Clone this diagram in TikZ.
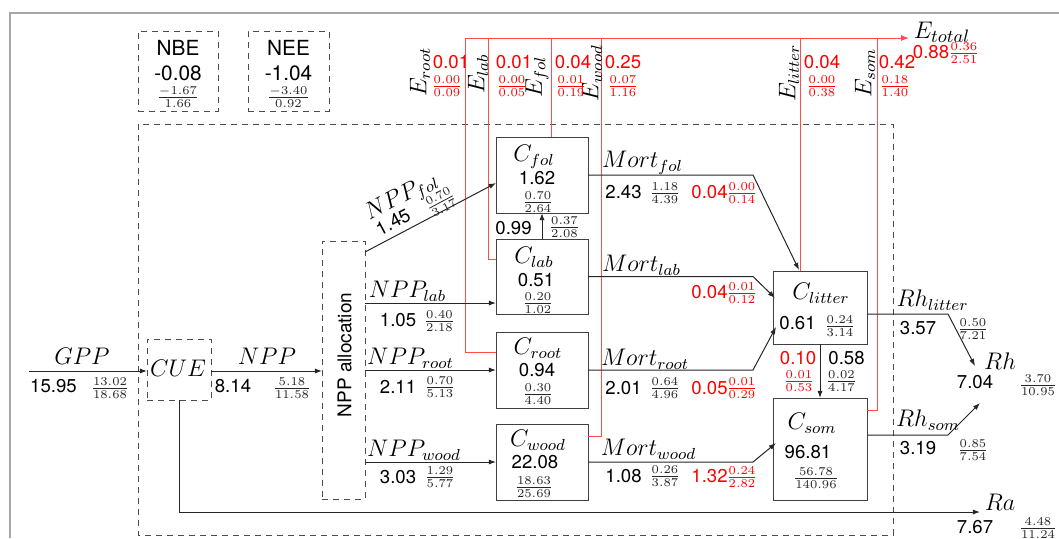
\documentclass[tikz,border=0pt]{standalone}
\usepackage{fontspec}
\setsansfont{TeX Gyre Heros}
\usetikzlibrary{arrows.meta}
\newcommand{\fr}[2]{$\frac{#1}{#2}$}
\begin{document}
\begin{tikzpicture}[x=0.5pt,y=-0.5pt,
 cbox/.style={draw=black!75, line width=0.5pt, inner sep=0pt, outer sep=0pt},
 dbox/.style={draw=black!70, line width=0.5pt, dash pattern=on 3pt off 2.5pt, inner sep=0pt, outer sep=0pt},
 con/.style={draw=black!85, line width=0.5pt},
 arr/.style={con, -{Latex[length=3.6pt,width=2.6pt]}},
 eline/.style={draw=red!70, line width=0.5pt},
 earr/.style={eline, -{Latex[length=4pt,width=3pt]}},
 num/.style={font=\sffamily\fontsize{9.3}{11}\selectfont, inner sep=0pt, text=black},
 big/.style={font=\sffamily\fontsize{10.4}{12}\selectfont, inner sep=0pt},
 lab/.style={font=\fontsize{11.5}{13}\selectfont, inner sep=0pt},
 frc/.style={font=\fontsize{8.8}{9}\selectfont, inner sep=0pt, text=black!85},
 rnum/.style={num, text=red},
 rfrc/.style={frc, text=red},
]
\useasboundingbox (0,0) rectangle (1059,538);
\draw[gray!70, line width=1pt] (10,538) -- (10,13) -- (1059,13);

% boxes
\node[dbox, minimum width=40pt, minimum height=40pt] (nbe) at (178,71) {};
\node[dbox, minimum width=40.5pt, minimum height=40pt] (nee) at (288.5,71) {};
\draw[dbox] (138,124) rectangle (893,535);
\node[dbox, minimum width=32pt, minimum height=30.5pt] (cue) at (179,369.5) {};
\node[dbox, minimum width=21.5pt, minimum height=129pt] (alloc) at (343.5,370) {};
\node[cbox, minimum width=46pt, minimum height=38pt] (cfol) at (542,175) {};
\node[cbox, minimum width=46pt, minimum height=37.5pt] (clab) at (542,276.5) {};
\node[cbox, minimum width=46pt, minimum height=38pt] (croot) at (542,370) {};
\node[cbox, minimum width=46pt, minimum height=38pt] (cwood) at (542,462) {};
\node[cbox, minimum width=47pt, minimum height=36.5pt] (clitter) at (820,307.5) {};
\node[cbox, minimum width=47pt, minimum height=51pt] (csom) at (820,449) {};

% emission lines
\coordinate (er) at (465,38);
\coordinate (er1) at (465,352);
\coordinate (el) at (488,38);
\coordinate (el1) at (488,259);
\coordinate (ef) at (551,38);
\coordinate (ew) at (601,38);
\coordinate (ew1) at (601,436);
\coordinate (eli) at (800,38);
\coordinate (es) at (877,38);
\coordinate (es1) at (877,410);
\coordinate (etot) at (909,38);
\draw[eline] (croot.west |- er1) -- (er1) -- (er);
\draw[eline] (clab.west |- el1) -- (el1) -- (el);
\draw[eline] (cfol.north -| ef) -- (ef);
\draw[eline] (cwood.east |- ew1) -- (ew1) -- (ew);
\draw[eline] (clitter.north -| eli) -- (eli);
\draw[eline] (csom.east |- es1) -- (es1) -- (es);
\draw[earr] (er) -- (etot);

% main flow
\coordinate (gpp0) at (29,371);
\coordinate (ra) at (980,512);
\draw[arr] (gpp0) -- (cue.west |- gpp0);
\draw[arr] (cue.east |- gpp0) -- (alloc.west |- gpp0);
\draw[arr] (cue.south) |- (ra);

% NPP allocation
\coordinate (yf) at (0,252);
\coordinate (tf) at (0,183);
\coordinate (yl) at (0,303);
\draw[arr] (alloc.east |- yf) -- (cfol.west |- tf);
\draw[arr] (alloc.east |- yl) -- (clab.west |- yl);
\draw[arr] (alloc.east |- croot.west) -- (croot.west);
\draw[arr] (alloc.east |- cwood.west) -- (cwood.west);
\draw[arr] (clab.north) -- (cfol.south);

% mortality
\coordinate (mx) at (753,0);
\coordinate (tipf) at (799,270);
\coordinate (tipl) at (775,298);
\coordinate (tipr) at (776,327);
\coordinate (tipw) at (776,443);
\draw[arr] (cfol.east) -- (cfol.east -| mx) -- (tipf);
\draw[arr] (clab.east) -- (clab.east -| mx) -- (tipl);
\draw[arr] (croot.east) -- (croot.east -| mx) -- (tipr);
\draw[arr] (cwood.east) -- (cwood.east -| mx) -- (tipw);
\draw[arr] (clitter.south) -- (csom.north);

% heterotrophic respiration
\coordinate (rl) at (948,314);
\coordinate (rs) at (948,435);
\coordinate (rhtip1) at (975,366);
\coordinate (rhtip2) at (980,403);
\draw[arr] (clitter.east |- rl) -- (rl) -- (rhtip1);
\draw[arr] (csom.east |- rs) -- (rs) -- (rhtip2);

% NBE / NEE
\node[big] (nbet) at (178,48) {NBE};
\node[big] (nbev) at (178,73) {-0.08};
\node[frc] (nbef) at (178,97) {\fr{-1.67}{1.66}};
\node[big] (neet) at (288.5,48) {NEE};
\node[big] (neev) at (288.5,73) {-1.04};
\node[frc] (neef) at (288.5,97) {\fr{-3.40}{0.92}};

% GPP / NPP
\node[lab] (gppl) at (82,356) {$GPP$};
\node[num] (gppv) at (53.5,386) {15.95};
\node[frc] (gppf) at (110,388) {\fr{13.02}{18.68}};
\node[lab] (cuet) at (178,368) {$CUE$};
\node[lab] (nppl) at (267,356) {$NPP$};
\node[num] (nppv) at (233,386) {8.14};
\node[frc] (nppf) at (292,388) {\fr{5.18}{11.58}};
\node[font=\sffamily\fontsize{9.5}{11}\selectfont, rotate=90, inner sep=0pt] (allt) at (344.5,355) {NPP allocation};

\node[lab, rotate=28] (nfl) at (402,198) {$NPP_{fol}$};
\node[frc, rotate=28] (nff) at (441,202) {\fr{0.70}{3.17}};
\node[num, rotate=28] (nfv) at (393,222) {1.45};
\node[lab] (nll) at (407.5,291) {$NPP_{lab}$};
\node[num] (nlv) at (398,320) {1.05};
\node[frc] (nlf) at (439.5,321) {\fr{0.40}{2.18}};
\node[lab] (nrl) at (410.5,358) {$NPP_{root}$};
\node[num] (nrv) at (398,387) {2.11};
\node[frc] (nrf) at (440,387) {\fr{0.70}{5.13}};
\node[lab] (nwl) at (414,450) {$NPP_{wood}$};
\node[num] (nwv) at (398,477) {3.03};
\node[frc] (nwf) at (440,477) {\fr{1.29}{5.77}};

% pools
\node[lab] (cfl) at (534,157) {$C_{fol}$};
\node[num] (cfv) at (537,178.5) {1.62};
\node[frc] (cff) at (538,202) {\fr{0.70}{2.64}};
\node[lab] (cll) at (534,257) {$C_{lab}$};
\node[num] (clv) at (536,280) {0.51};
\node[frc] (clf) at (538,303) {\fr{0.20}{1.02}};
\node[num] (lfv) at (513.5,228) {0.99};
\node[frc] (lff) at (564.5,227) {\fr{0.37}{2.08}};
\node[lab] (crl) at (538,348) {$C_{root}$};
\node[num] (crv) at (537,370) {0.94};
\node[frc] (crf) at (538,394) {\fr{0.30}{4.40}};
\node[lab] (cwl) at (538,440) {$C_{wood}$};
\node[num] (cwv) at (535,462) {22.08};
\node[frc] (cwf) at (534,487) {\fr{18.63}{25.69}};
\node[lab] (cil) at (821,293) {$C_{litter}$};
\node[num] (civ) at (797.5,323) {0.61};
\node[frc] (cif) at (840,326) {\fr{0.24}{3.14}};
\node[rnum] (lsr) at (798,358) {0.10};
\node[rfrc] (lsrf) at (799,381) {\fr{0.01}{0.53}};
\node[num] (lsv) at (846.5,358) {0.58};
\node[frc] (lsf) at (841.5,381) {\fr{0.02}{4.17}};
\node[lab] (csl) at (812,423) {$C_{som}$};
\node[num] (csv) at (808,452) {96.81};
\node[frc] (csf) at (816,478) {\fr{56.78}{140.96}};

% mortality labels
\node[lab] (mfl) at (642.5,163) {$Mort_{fol}$};
\node[num] (mfv) at (623.5,192) {2.43};
\node[frc] (mff) at (665,193) {\fr{1.18}{4.39}};
\node[rnum] (mfr) at (709.5,192) {0.04};
\node[rfrc] (mfrf) at (742,193) {\fr{0.00}{0.14}};
\node[lab] (mll) at (641.5,265) {$Mort_{lab}$};
\node[rnum] (mlr) at (709.5,292.5) {0.04};
\node[rfrc] (mlrf) at (742,293) {\fr{0.01}{0.12}};
\node[lab] (mrl) at (645,359) {$Mort_{root}$};
\node[num] (mrv) at (623.5,388) {2.01};
\node[frc] (mrf) at (665,388) {\fr{0.64}{4.96}};
\node[rnum] (mrr) at (709.5,388) {0.05};
\node[rfrc] (mrrf) at (742,388) {\fr{0.01}{0.29}};
\node[lab] (mwl) at (648.5,449) {$Mort_{wood}$};
\node[num] (mwv) at (623.5,476) {1.08};
\node[frc] (mwf) at (665,476) {\fr{0.26}{3.87}};
\node[rnum] (mwr) at (709.5,476) {1.32};
\node[rfrc] (mwrf) at (742,477) {\fr{0.24}{2.82}};

% respiration labels
\node[lab] (rll) at (932.5,300) {$Rh_{litter}$};
\node[num] (rlv) at (918,328) {3.57};
\node[frc] (rlf) at (973,329) {\fr{0.50}{7.21}};
\node[lab] (rhl) at (1000,361.5) {$Rh$};
\node[num] (rhv) at (975,382) {7.04};
\node[frc] (rhf) at (1038,385) {\fr{3.70}{10.95}};
\node[lab] (rsl) at (928,420) {$Rh_{som}$};
\node[num] (rsv) at (918,448) {3.19};
\node[frc] (rsf) at (973,450) {\fr{0.85}{7.54}};
\node[lab] (ral) at (1000,502) {$Ra$};
\node[num] (rav) at (975,527) {7.67};
\node[frc] (raf) at (1038,528) {\fr{4.48}{11.24}};

% emission labels
\node[lab, rotate=90] (erl) at (420,72) {$E_{root}$};
\node[lab, rotate=90] (ell) at (478,74) {$E_{lab}$};
\node[lab, rotate=90] (efl) at (537,77) {$E_{fol}$};
\node[lab, rotate=90] (ewl) at (592,73) {$E_{wood}$};
\node[lab, rotate=90] (eil) at (789,73) {$E_{litter}$};
\node[lab, rotate=90] (esl) at (865,73) {$E_{som}$};
\node[rnum] (erv) at (451,62.5) {0.01};
\node[rfrc] (erf) at (447,86) {\fr{0.00}{0.09}};
\node[rnum] (elv) at (514,62.5) {0.01};
\node[rfrc] (elf) at (512,86) {\fr{0.00}{0.05}};
\node[rnum] (efv) at (573,62.5) {0.04};
\node[rfrc] (eff) at (571,86) {\fr{0.01}{0.19}};
\node[rnum] (ewv) at (623,62.5) {0.25};
\node[rfrc] (ewf) at (623,86) {\fr{0.07}{1.16}};
\node[rnum] (eiv) at (822,62.5) {0.04};
\node[rfrc] (eif) at (822,86) {\fr{0.00}{0.38}};
\node[rnum] (esv) at (897,62.5) {0.42};
\node[rfrc] (esf) at (895,86) {\fr{0.18}{1.40}};
\node[lab, font=\fontsize{12.5}{14}\selectfont] (etl) at (942,32) {$E_{total}$};
\node[rnum] (etv) at (931,52.5) {0.88};
\node[rfrc] (etf) at (964,53) {\fr{0.36}{2.51}};
\end{tikzpicture}
\end{document}
